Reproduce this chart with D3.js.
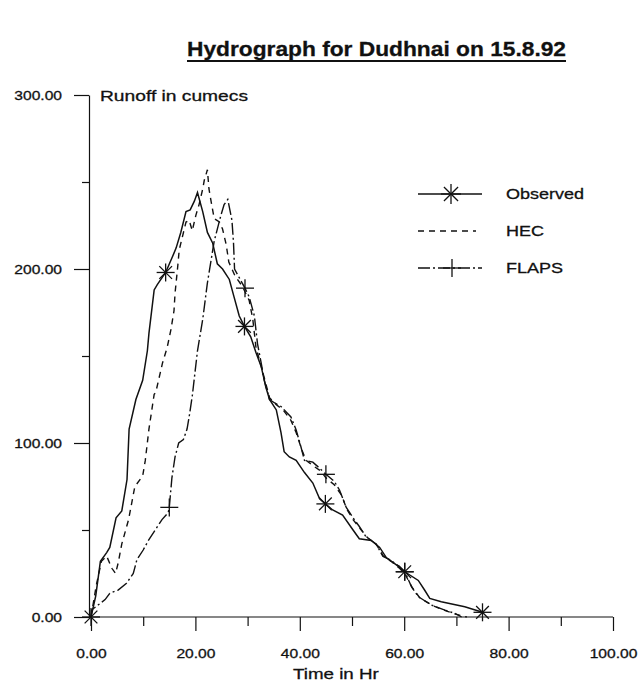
<!DOCTYPE html>
<html>
<head>
<meta charset="utf-8">
<script src="https://cdn.jsdelivr.net/npm/d3@7"></script>
<style>
  html, body { margin: 0; padding: 0; background: #fff; }
  svg { display: block; }
  text { font-family: "Liberation Sans", Arial, sans-serif; fill: #111; stroke: #111; stroke-width: 0.3px; }
</style>
</head>
<body>
<svg id="chart" width="639" height="687"></svg>
<script>
// ---------- DATA ----------
const obsT = [0, 0.9, 1.8, 3.0, 3.6, 4.8, 5.9, 6.9, 7.3, 8.6, 9.9, 10.8, 11.1, 12.1, 12.7, 14.3, 15.6, 16.3, 17.2, 18.2, 19.0, 19.8, 20.4, 21.4, 22.3, 23.3, 24.2, 25.2, 26.5, 27.4, 28.4, 29.4, 30.6, 31.6, 32.6, 33.5, 34.2, 35.5, 36.4, 37.0, 38.0, 39.3, 40.9, 42.5, 43.8, 44.9, 46.3, 48.2, 50.2, 51.4, 53.7, 55.3, 56.6, 58.5, 60.1, 62.7, 63.9, 64.9, 67.1, 71.6, 75.0];
const obsQ = [0, 12, 32, 37, 40, 57, 61, 79, 108, 125, 136, 153, 163, 188, 191, 198, 207, 212, 221, 233, 234, 239, 244, 233, 221, 215, 203, 200, 194, 184, 173, 167, 161, 152, 144, 132, 125, 119, 106, 95, 92, 90, 83, 77, 68, 65, 61.5, 58.6, 50, 45, 44, 40, 34, 30, 26, 21, 15.5, 10.7, 8.8, 5.9, 2.7];

const hecT = [0, 1, 2, 3, 4, 4.7, 5.2, 5.9, 7.2, 8.4, 9.9, 10.4, 11.1, 12.1, 12.4, 13.7, 14.6, 15.3, 15.9, 16.1, 16.6, 16.9, 18.2, 18.8, 19.4, 20.1, 20.7, 21.4, 21.7, 22.3, 22.6, 23.0, 23.6, 24.6, 25.2, 25.9, 26.4, 27.6, 29.0, 30.3, 31.0, 31.6, 32.6, 33.5, 34.2, 35.5, 36.8, 38.3, 39.3, 40.4, 41.2, 42.5, 44, 45, 46.6, 48, 49, 50.2, 51.5, 53, 54.6, 56, 57.5, 59.1, 60.1, 61.5, 63, 65.5, 68, 70, 72];
const hecQ = [0, 18, 32, 35, 28, 25, 31, 42, 56, 75, 81, 90, 108, 128, 129, 146, 155, 165, 176, 186, 201, 211, 227, 228, 222, 231, 237, 246, 251, 257, 246, 239, 229, 227, 223, 214, 204, 196, 190, 182, 171, 155, 144, 134, 126, 122, 119, 113, 106, 96, 90, 87, 84, 80, 76, 70, 62, 56, 51, 45.5, 42, 35, 32, 28, 25, 17, 11, 6.5, 3.5, 1.5, 0];

const flapsT = [0, 0.1, 1.4, 2.7, 3.6, 5.2, 6.8, 8.1, 8.8, 10.0, 11.0, 12.3, 13.6, 14.8, 15.0, 15.5, 16.1, 16.8, 17.7, 18.4, 18.8, 19.4, 20.4, 21.4, 22.3, 23.0, 23.6, 24.9, 25.5, 26.2, 27.0, 27.3, 27.5, 28.4, 29.5, 30.3, 31.3, 31.9, 32.6, 33.2, 34.2, 35.2, 36.4, 38.3, 39.3, 40.2, 40.9, 42.5, 43.8, 45.0, 46.6, 47.6, 48.9, 50.2, 51.4, 52.7, 54.6, 55.9, 57.2, 59.1, 60.1, 61.4, 62.7, 65.2, 67.8, 69.7, 71];
const flapsQ = [0, 4, 7, 10, 13.6, 15.5, 19.4, 25, 33, 38.5, 44, 50, 56, 60, 63, 80, 92, 100, 102, 108, 115, 127, 153, 171, 192, 205, 216, 231, 237, 240, 228, 215, 200, 195, 189, 184, 173, 157, 146, 136, 125, 123, 121, 115, 107.5, 98, 90, 89, 85.5, 82, 78, 73, 63, 57, 52, 46, 42, 35, 33, 29, 26, 17.4, 11.7, 6.9, 4, 2.1, 0];

const obsMarkT = [0, 14.3, 29.4, 44.9, 60.1, 75.0];
const obsMarkQ = [0, 198, 167, 65, 26, 2.7];
const flapsMarkT = [15.0, 29.5, 45.0, 60.1];
const flapsMarkQ = [63, 189, 82, 26];

const seriesNames = ["Observed", "HEC", "FLAPS"];
const xMajorTicks = [0, 20, 40, 60, 80, 100];
const xMinorTicks = [10, 30, 50, 70, 90];
const yMajorTicks = [0, 100, 200, 300];
const yMinorTicks = [50, 150, 250];
const titleText = "Hydrograph for Dudhnai on 15.8.92";
const xTitle = "Time in Hr";
const yTitle = "Runoff in cumecs";

// ---------- DRAWING ----------
const svg = d3.select("#chart");
const STRETCH = 1.2;
function stretch(sel, f) {
  sel.each(function () {
    const len = this.getComputedTextLength();
    d3.select(this).attr("textLength", len * (f || STRETCH)).attr("lengthAdjust", "spacingAndGlyphs");
  });
}

const x = d3.scaleLinear().domain([0, 100]).range([91, 613]);
const y = d3.scaleLinear().domain([0, 300]).range([617, 95]);
const axisX = 89;

// Title
svg.append("text").attr("x", 187).attr("y", 56)
  .style("font-size", "21px").style("font-weight", "bold")
  .attr("textLength", 379).attr("lengthAdjust", "spacingAndGlyphs")
  .text(titleText);
svg.append("line").attr("x1", 187).attr("x2", 566).attr("y1", 61).attr("y2", 61)
  .attr("stroke", "#111").attr("stroke-width", 2);

// Y axis
const gy = svg.append("g").attr("transform", `translate(${axisX},0)`)
  .call(d3.axisLeft(y).tickValues(yMajorTicks).tickSize(15).tickSizeOuter(0).tickPadding(12)
    .tickFormat(d3.format(".2f")));
gy.selectAll("text").style("font-size", "13px").style("fill", "#111").attr("font-family", null);
gy.selectAll("line, path").attr("stroke", "#111").attr("stroke-width", 1.2);
stretch(gy.selectAll("text"));
const gy2 = svg.append("g").attr("transform", `translate(${axisX},0)`)
  .call(d3.axisLeft(y).tickValues(yMinorTicks).tickSize(7).tickFormat(""));
gy2.select(".domain").remove();
gy2.selectAll("line").attr("stroke", "#111").attr("stroke-width", 1.2);

// X axis
const gx = svg.append("g").attr("transform", `translate(0,${y(0)})`)
  .call(d3.axisBottom(x).tickValues(xMajorTicks).tickSize(14).tickSizeOuter(0).tickPadding(27)
    .tickFormat(d3.format(".2f")));
gx.selectAll("text").style("font-size", "13px").style("fill", "#111").attr("dy", 0);
gx.selectAll("line, path").attr("stroke", "#111").attr("stroke-width", 1.2);
gx.select(".domain").attr("d", `M${axisX},0H${x(100)}`);
stretch(gx.selectAll("text"));
const gx2 = svg.append("g").attr("transform", `translate(0,${y(0)})`)
  .call(d3.axisBottom(x).tickValues(xMinorTicks).tickSize(9).tickFormat(""));
gx2.select(".domain").remove();
gx2.selectAll("line").attr("stroke", "#111").attr("stroke-width", 1.2);

// Axis titles
const yt = svg.append("text").attr("x", 100).attr("y", 101).style("font-size", "15px").text(yTitle);
stretch(yt, 1.28);
const xt = svg.append("text").attr("x", 293).attr("y", 679).style("font-size", "15px").text(xTitle);
stretch(xt, 1.25);

// Lines
const line = d3.line().x(d => x(d[0])).y(d => y(d[1]));
const obsData = obsT.map((t, i) => [t, obsQ[i]]);
const hecData = hecT.map((t, i) => [t, hecQ[i]]);
const flapsData = flapsT.map((t, i) => [t, flapsQ[i]]);

const styles = {
  Observed: { dash: null, width: 1.5 },
  HEC: { dash: "6,5", width: 1.4 },
  FLAPS: { dash: "12,3,2,3", width: 1.4 }
};

svg.append("path").datum(hecData).attr("d", line).attr("fill", "none")
  .attr("stroke", "#111").attr("stroke-width", styles.HEC.width).attr("stroke-dasharray", styles.HEC.dash);
svg.append("path").datum(flapsData).attr("d", line).attr("fill", "none")
  .attr("stroke", "#111").attr("stroke-width", styles.FLAPS.width).attr("stroke-dasharray", styles.FLAPS.dash);
svg.append("path").datum(obsData).attr("d", line).attr("fill", "none")
  .attr("stroke", "#111").attr("stroke-width", styles.Observed.width);

// Markers
function asterisk(g, cx, cy, r) {
  [0, 45, 90, 135].forEach(a => {
    const rad = a * Math.PI / 180;
    g.append("line")
      .attr("x1", cx - r * Math.cos(rad)).attr("y1", cy - r * Math.sin(rad))
      .attr("x2", cx + r * Math.cos(rad)).attr("y2", cy + r * Math.sin(rad))
      .attr("stroke", "#111").attr("stroke-width", 1.3);
  });
}
function plus(g, cx, cy, r) {
  g.append("line").attr("x1", cx - r).attr("x2", cx + r).attr("y1", cy).attr("y2", cy)
    .attr("stroke", "#111").attr("stroke-width", 1.3);
  g.append("line").attr("x1", cx).attr("x2", cx).attr("y1", cy - r).attr("y2", cy + r)
    .attr("stroke", "#111").attr("stroke-width", 1.3);
}
const mg = svg.append("g");
obsMarkT.forEach((t, i) => asterisk(mg, x(t), y(obsMarkQ[i]), 9));
flapsMarkT.forEach((t, i) => plus(mg, x(t), y(flapsMarkQ[i]), 9));

// Legend
const legY = [194, 231, 268];
const lg = svg.append("g");
seriesNames.forEach((name, i) => {
  const yy = legY[i];
  const st = styles[name];
  lg.append("line").attr("x1", 418).attr("x2", name === "HEC" ? 476 : 482)
    .attr("y1", yy).attr("y2", yy).attr("stroke", "#111")
    .attr("stroke-width", st.width).attr("stroke-dasharray", st.dash);
  if (name === "Observed") asterisk(lg, 451, yy, 10);
  if (name === "FLAPS") plus(lg, 452, yy, 9);
  const t = lg.append("text").attr("x", 506).attr("y", yy + 5).style("font-size", "15px").text(name);
  stretch(t, 1.2);
});
</script>
</body>
</html>
